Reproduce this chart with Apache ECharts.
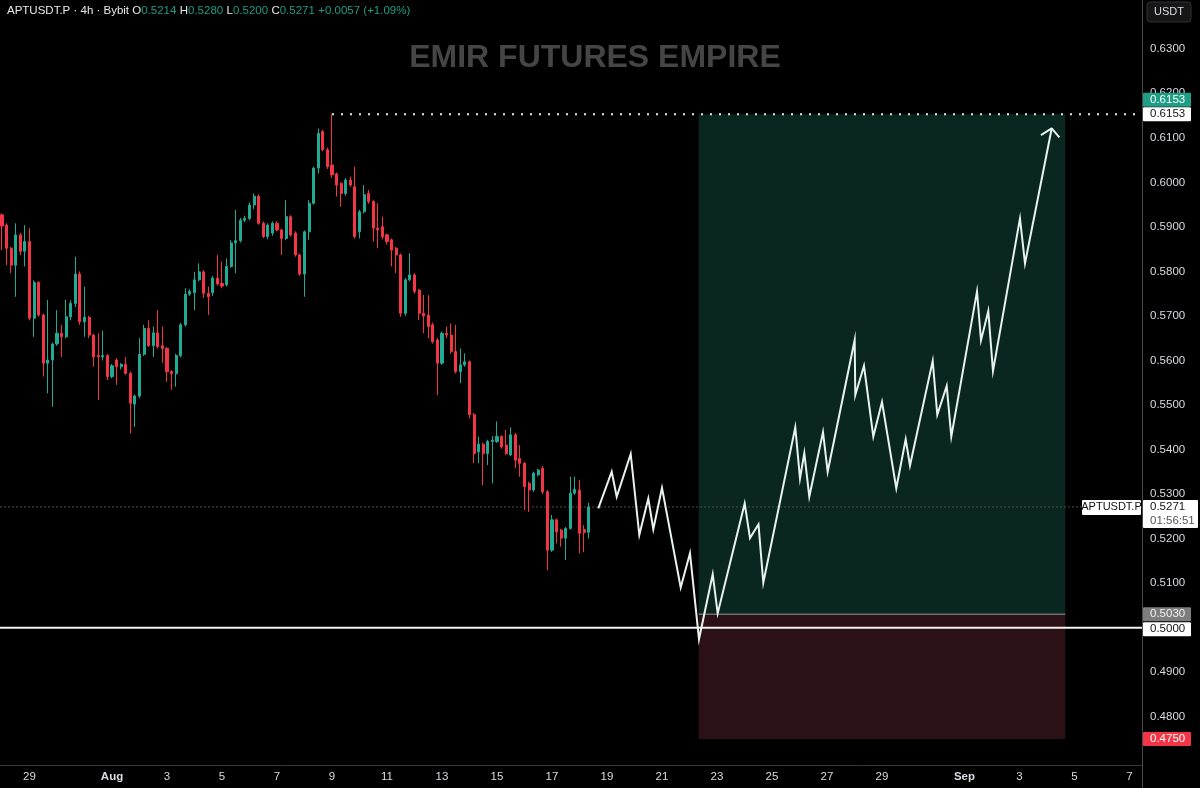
<!DOCTYPE html>
<html><head><meta charset="utf-8">
<script src="https://cdn.jsdelivr.net/npm/echarts@6/dist/echarts.min.js"></script>
<style>html,body{margin:0;padding:0;background:#000;}#c{width:1200px;height:788px;}</style>
</head><body><div id="c"></div>
<script>
// ---- time is expressed in days counted from "Jul 0" (Jul 29 = 29, Aug 1 = 32, Sep 1 = 63)
const candleStartDay = 28;          // first 4h candle: Jul 28 00:00
const candleStepDays = 1 / 6;       // 4h bars
const opens = [0.5927,0.5904,0.5852,0.5814,0.5882,0.5845,0.5867,0.5695,0.5775,0.5702,0.5594,0.5601,0.5637,0.5661,0.5653,0.5698,0.5728,0.5794,0.5687,0.5697,0.5657,0.5611,0.5608,0.5611,0.5564,0.5601,0.5586,0.5591,0.5571,0.5502,0.5520,0.5614,0.5672,0.5633,0.5662,0.5633,0.5627,0.5575,0.5570,0.5611,0.5680,0.5749,0.5752,0.5781,0.5799,0.5751,0.5752,0.5785,0.5773,0.5770,0.5811,0.5864,0.5869,0.5915,0.5919,0.5949,0.5969,0.5908,0.5878,0.5886,0.5908,0.5893,0.5874,0.5923,0.5886,0.5837,0.5794,0.5889,0.5953,0.6032,0.6114,0.6073,0.6039,0.6019,0.5998,0.5975,0.6005,0.5990,0.5889,0.5934,0.5975,0.5957,0.5897,0.5900,0.5882,0.5871,0.5852,0.5837,0.5706,0.5781,0.5792,0.5758,0.5706,0.5702,0.5680,0.5646,0.5594,0.5661,0.5657,0.5620,0.5575,0.5590,0.5597,0.5478,0.5395,0.5412,0.5391,0.5418,0.5418,0.5429,0.5410,0.5388,0.5433,0.5380,0.5369,0.5324,0.5309,0.5343,0.5358,0.5305,0.5174,0.5242,0.5219,0.5201,0.5223,0.5302,0.5309,0.5220,0.5214];
const closes = [0.5902,0.5852,0.5814,0.5882,0.5845,0.5867,0.5695,0.5775,0.5702,0.5594,0.5601,0.5637,0.5661,0.5653,0.5698,0.5728,0.5794,0.5687,0.5697,0.5657,0.5608,0.5608,0.5611,0.5564,0.5588,0.5586,0.5591,0.5571,0.5504,0.5520,0.5614,0.5672,0.5633,0.5662,0.5631,0.5627,0.5575,0.5570,0.5611,0.5680,0.5749,0.5755,0.5781,0.5799,0.5751,0.5743,0.5785,0.5772,0.5767,0.5811,0.5864,0.5869,0.5915,0.5919,0.5949,0.5969,0.5908,0.5878,0.5904,0.5908,0.5893,0.5874,0.5923,0.5882,0.5837,0.5794,0.5889,0.5953,0.6032,0.6110,0.6073,0.6035,0.6017,0.5994,0.5975,0.6005,0.5994,0.5878,0.5934,0.5972,0.5957,0.5897,0.5893,0.5878,0.5867,0.5848,0.5837,0.5706,0.5781,0.5792,0.5755,0.5706,0.5700,0.5676,0.5642,0.5594,0.5661,0.5657,0.5620,0.5575,0.5590,0.5597,0.5478,0.5391,0.5412,0.5391,0.5418,0.5421,0.5429,0.5406,0.5391,0.5433,0.5376,0.5369,0.5317,0.5309,0.5347,0.5354,0.5305,0.5174,0.5242,0.5215,0.5201,0.5223,0.5302,0.5310,0.5212,0.5214,0.5271];
const lows = [0.5848,0.5814,0.5796,0.5743,0.5837,0.5811,0.5690,0.5653,0.5698,0.5564,0.5526,0.5496,0.5633,0.5608,0.5650,0.5690,0.5720,0.5680,0.5653,0.5650,0.5586,0.5511,0.5600,0.5556,0.5560,0.5545,0.5580,0.5568,0.5436,0.5451,0.5515,0.5610,0.5630,0.5608,0.5627,0.5594,0.5552,0.5534,0.5541,0.5607,0.5676,0.5745,0.5713,0.5778,0.5740,0.5702,0.5745,0.5768,0.5762,0.5766,0.5808,0.5796,0.5865,0.5910,0.5915,0.5940,0.5905,0.5875,0.5872,0.5880,0.5890,0.5837,0.5870,0.5878,0.5833,0.5790,0.5743,0.5871,0.5950,0.6020,0.6070,0.6030,0.6010,0.5968,0.5945,0.5970,0.5990,0.5874,0.5874,0.5930,0.5952,0.5867,0.5852,0.5872,0.5860,0.5811,0.5796,0.5698,0.5700,0.5778,0.5750,0.5691,0.5661,0.5650,0.5638,0.5522,0.5590,0.5650,0.5615,0.5571,0.5549,0.5586,0.5470,0.5369,0.5369,0.5320,0.5365,0.5324,0.5415,0.5402,0.5388,0.5385,0.5358,0.5339,0.5264,0.5260,0.5305,0.5340,0.5300,0.5129,0.5170,0.5189,0.5182,0.5152,0.5220,0.5298,0.5167,0.5170,0.5200];
const highs = [0.5930,0.5908,0.5855,0.5908,0.5886,0.5904,0.5897,0.5780,0.5778,0.5705,0.5736,0.5640,0.5713,0.5680,0.5736,0.5735,0.5833,0.5800,0.5766,0.5700,0.5660,0.5661,0.5667,0.5614,0.5592,0.5605,0.5594,0.5608,0.5575,0.5524,0.5650,0.5680,0.5690,0.5676,0.5713,0.5676,0.5630,0.5578,0.5615,0.5684,0.5762,0.5760,0.5799,0.5818,0.5803,0.5766,0.5790,0.5837,0.5822,0.5829,0.5870,0.5938,0.5920,0.5925,0.5955,0.5975,0.5973,0.5912,0.5908,0.5912,0.5912,0.5896,0.5960,0.5926,0.5890,0.5840,0.5892,0.5960,0.6035,0.6121,0.6118,0.6078,0.6153,0.6022,0.6000,0.6010,0.6013,0.6035,0.5938,0.5994,0.5983,0.5960,0.5953,0.5923,0.5885,0.5874,0.5855,0.5840,0.5785,0.5841,0.5796,0.5760,0.5747,0.5747,0.5685,0.5650,0.5665,0.5676,0.5683,0.5680,0.5627,0.5616,0.5600,0.5482,0.5429,0.5415,0.5422,0.5430,0.5463,0.5432,0.5444,0.5450,0.5437,0.5410,0.5372,0.5328,0.5350,0.5356,0.5363,0.5309,0.5253,0.5245,0.5222,0.5226,0.5339,0.5339,0.5332,0.5230,0.5280];

// projected path (hand-drawn forecast) : day, price
const pathDays   = [49.684,50.171,50.353,50.862,51.175,51.502,51.684,52.0,52.680,53.018,53.345,53.844,54.025,55.007,55.2,55.509,55.684,56.847,57.018,57.175,57.356,57.855,58.025,59.007,59.029,59.345,59.684,60.0,60.52,60.862,61.018,61.844,62.011,62.353,62.52,63.455,63.6,63.865,64.036,65.018,65.2,66.171];
const pathPrices = [0.5268,0.5350,0.5294,0.5390,0.5208,0.5290,0.5221,0.5314,0.5090,0.5167,0.4974,0.5120,0.5032,0.5279,0.5201,0.5232,0.5101,0.5450,0.5335,0.5392,0.5294,0.5439,0.5350,0.5646,0.5522,0.5588,0.5429,0.5507,0.5313,0.5423,0.5364,0.5599,0.5478,0.5543,0.5429,0.5755,0.5645,0.5711,0.5576,0.5919,0.5818,0.6121];
const arrowDays   = [65.78,66.171,66.45];
const arrowPrices = [0.6106,0.6121,0.6101];

// position tool (long)
const positionDays = [53.333, 66.667];
const entryPrice = 0.5030, takeProfit = 0.6153, stopLoss = 0.4750;
const supportPrice = 0.5000;
const lastPrice = 0.5271;
const highDay = 40.0;  // bar of the swing high 0.6153

// axes
const xMinDay = 27.927, xMaxDay = 69.455;
const yMinPrice = 0.46915, yMaxPrice = 0.64095;
const xTickDays   = [29,32,34,36,38,40,42,44,46,48,50,52,54,56,58,60,63,65,67,69];
const xTickLabels = ['29','Aug','3','5','7','9','11','13','15','17','19','21','23','25','27','29','Sep','3','5','7'];
const yTicks = [0.48,0.49,0.50,0.51,0.52,0.53,0.54,0.55,0.56,0.57,0.58,0.59,0.60,0.61,0.62,0.63];

// header
const ticker = 'APTUSDT.P · 4h · Bybit';
const ohlcHeader = ['0.5214','0.5280','0.5200','0.5271'];
const changeHeader = '+0.0057 (+1.09%)';
const countdown = '01:56:51';
const watermark = 'EMIR FUTURES EMPIRE';

const UP = '#22ab94', DOWN = '#f23645', TXT = '#d8dbe0';
const FONT = '"Liberation Sans", Arial, sans-serif';

const candleData = opens.map((o, i) => [candleStartDay + i * candleStepDays, o, closes[i], lows[i], highs[i]]);
const pathData = pathDays.map((d, i) => [d, pathPrices[i]]);
const arrowData = arrowDays.map((d, i) => [d, arrowPrices[i]]);

const chart = echarts.init(document.getElementById('c'), null, {renderer: 'canvas'});
chart.setOption({
  backgroundColor: '#000000',
  animation: false,
  grid: {left: 0, right: 58, top: 0, bottom: 23, containLabel: false},
  xAxis: {
    type: 'value', min: xMinDay, max: xMaxDay,
    splitLine: {show: false},
    axisLine: {show: true, lineStyle: {color: '#3a3a3a', width: 1}},
    axisTick: {show: false},
    axisLabel: {
      customValues: xTickDays, color: TXT, fontSize: 11.5, fontFamily: FONT, margin: 6,
      formatter: v => { const i = xTickDays.indexOf(Math.round(v)); const t = xTickLabels[i] || '';
        return /[A-Za-z]/.test(t) ? '{b|' + t + '}' : t; },
      rich: {b: {fontWeight: 'bold', color: TXT, fontSize: 11.5, fontFamily: FONT}}
    }
  },
  yAxis: {
    type: 'value', position: 'right', min: yMinPrice, max: yMaxPrice, scale: true,
    splitLine: {show: false},
    axisLine: {show: true, lineStyle: {color: '#4a4a4a', width: 1}},
    axisTick: {show: false},
    axisLabel: {customValues: yTicks, color: TXT, fontSize: 11.5, fontFamily: FONT, margin: 8,
      formatter: v => v.toFixed(4)}
  },
  series: [
    {type: 'line', data: [], z: 1, silent: true,
      markArea: {silent: true, data: [
        [{xAxis: positionDays[0], yAxis: entryPrice, itemStyle: {color: '#0a2621'}}, {xAxis: positionDays[1], yAxis: takeProfit}],
        [{xAxis: positionDays[0], yAxis: stopLoss, itemStyle: {color: '#2b1115'}}, {xAxis: positionDays[1], yAxis: entryPrice}]
      ]}},
    {type: 'line', z: 2, silent: true, symbol: 'none', data: [[positionDays[0], entryPrice], [positionDays[1], entryPrice]],
      lineStyle: {color: '#6e6e6e', width: 1.5}},
    {type: 'line', z: 2, silent: true, symbol: 'none', data: [[xMinDay, lastPrice], [xMaxDay, lastPrice]],
      lineStyle: {color: '#4d4d4d', width: 1, type: [2, 2]}},
    {type: 'line', z: 3, silent: true, symbol: 'none', data: [[highDay, takeProfit], [xMaxDay, takeProfit]],
      lineStyle: {color: '#e6e6e6', width: 2, type: [2, 7]}},
    {type: 'candlestick', z: 4, barWidth: 2.6, data: candleData,
      itemStyle: {color: UP, color0: DOWN, borderColor: UP, borderColor0: DOWN, borderWidth: 1}},
    {type: 'line', z: 5, silent: true, symbol: 'none', data: [[xMinDay, supportPrice], [xMaxDay, supportPrice]],
      lineStyle: {color: '#f2f2f2', width: 2}},
    {type: 'line', z: 6, silent: true, symbol: 'none', data: pathData,
      lineStyle: {color: '#e8f2ef', width: 2, join: 'miter'}},
    {type: 'line', z: 6, silent: true, symbol: 'none', data: arrowData,
      lineStyle: {color: '#e8f2ef', width: 2}}
  ]
});

// ---- overlay labels positioned through the axes
const yPx = v => chart.convertToPixel({yAxisIndex: 0}, v);
const gridRight = chart.convertToPixel({xAxisIndex: 0}, xMaxDay);
const gridLeft = chart.convertToPixel({xAxisIndex: 0}, xMinDay);
const gridBottom = yPx(yMinPrice);
const tagX = gridRight + 1;
function tag(yc, text, bg, fg, w, h) {
  w = w || 48; h = h || 14;
  return [
    {type: 'rect', z: 100, shape: {x: tagX, y: yc - h / 2, width: w, height: h, r: 1}, style: {fill: bg}},
    {type: 'text', z: 101, style: {x: tagX + 7, y: yc, text: text, fill: fg, font: '11.5px ' + FONT, verticalAlign: 'middle'}}
  ];
}
const tpY = yPx(takeProfit), lastY = yPx(lastPrice), entryY = yPx(entryPrice), supY = yPx(supportPrice), slY = yPx(stopLoss);
const g = [];
// watermark
g.push({type: 'text', z: 0, style: {x: (gridLeft + gridRight) / 2 + 24, y: 58, text: watermark, fill: '#454545',
  font: 'bold 32px ' + FONT, align: 'center', verticalAlign: 'middle'}});
// header
g.push({type: 'text', z: 100, style: {x: 7, y: 11, verticalAlign: 'middle',
  text: '{w|' + ticker + ' O}{g|' + ohlcHeader[0] + '} {w|H}{g|' + ohlcHeader[1] + '} {w|L}{g|' + ohlcHeader[2] + '} {w|C}{g|' + ohlcHeader[3] + '} {g|' + changeHeader + '}',
  rich: {w: {fill: '#e8e8e8', font: '11.5px ' + FONT}, g: {fill: '#1f9c85', font: '11.5px ' + FONT}}}});
// USDT box
g.push({type: 'rect', z: 100, shape: {x: gridRight + 5, y: 2, width: 44, height: 20, r: 3}, style: {fill: '#161616', stroke: '#333333', lineWidth: 1}});
g.push({type: 'text', z: 101, style: {x: gridRight + 27, y: 12, text: 'USDT', fill: TXT, font: '11px ' + FONT, align: 'center', verticalAlign: 'middle'}});
// price tags
g.push(...tag(tpY - 14.5, takeProfit.toFixed(4), '#1e9e84', '#ffffff'));
g.push(...tag(tpY, takeProfit.toFixed(4), '#ffffff', '#111111'));
g.push(...tag(entryY, entryPrice.toFixed(4), '#7d7d7d', '#f0f0f0'));
g.push(...tag(supY + 1.5, supportPrice.toFixed(4), '#ffffff', '#111111'));
g.push(...tag(slY, stopLoss.toFixed(4), DOWN, '#ffffff'));
// last price block
g.push({type: 'rect', z: 100, shape: {x: tagX, y: lastY - 7, width: 55, height: 28, r: 1}, style: {fill: '#ffffff'}});
g.push({type: 'text', z: 101, style: {x: tagX + 7, y: lastY, text: lastPrice.toFixed(4), fill: '#111111', font: '11.5px ' + FONT, verticalAlign: 'middle'}});
g.push({type: 'text', z: 101, style: {x: tagX + 7, y: lastY + 14, text: countdown, fill: '#555555', font: '11.5px ' + FONT, verticalAlign: 'middle'}});
g.push({type: 'rect', z: 100, shape: {x: gridRight - 60, y: lastY - 7, width: 59, height: 15, r: 1}, style: {fill: '#ffffff'}});
g.push({type: 'text', z: 101, style: {x: gridRight - 30.5, y: lastY + 0.5, text: 'APTUSDT.P', fill: '#111111', font: '11px ' + FONT, align: 'center', verticalAlign: 'middle'}});
// axis separator continuing through the time scale
g.push({type: 'line', z: 100, shape: {x1: gridRight + 0.5, y1: gridBottom, x2: gridRight + 0.5, y2: 788}, style: {stroke: '#4a4a4a', lineWidth: 1}});
chart.setOption({graphic: g});
</script></body></html>
